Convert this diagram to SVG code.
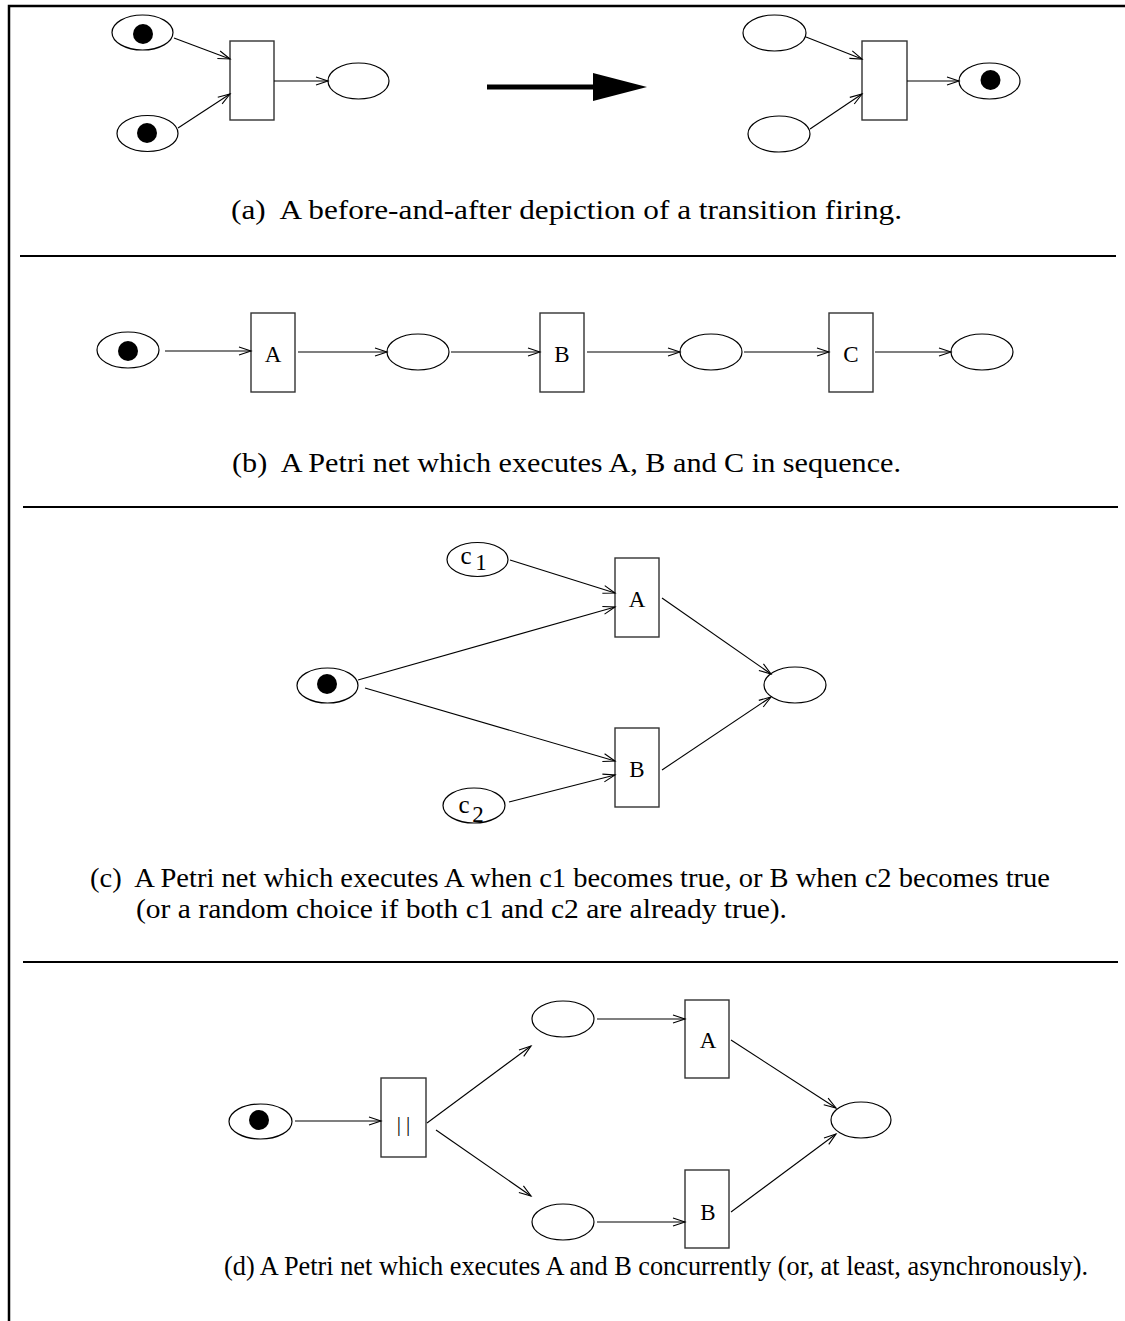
<svg xmlns="http://www.w3.org/2000/svg" width="1125" height="1321" viewBox="0 0 1125 1321">
  <style>
    .place { fill: #fff; stroke: #000; stroke-width: 1.2; }
    .token { fill: #000; }
    .trans { fill: #fff; stroke: #333; stroke-width: 1.4; }
    .arc { fill: none; stroke: #000; stroke-width: 1.1; marker-end: url(#open); }
    .rule { stroke: #000; stroke-width: 2; }
    .lbl { font-family: "Liberation Serif", "Times New Roman", serif; font-size: 23px; fill: #000; text-anchor: middle; }
    .cap { font-family: "Liberation Serif", "Times New Roman", serif; font-size: 27px; fill: #000; white-space: pre; }
  </style>
  <defs>
    <marker id="open" markerUnits="userSpaceOnUse" markerWidth="16" markerHeight="12" refX="13" refY="5" orient="auto">
      <path d="M1,1 L13,5 L1,9" fill="none" stroke="#000" stroke-width="1.1"/>
    </marker>
  </defs>

  <!-- frame and section rules -->
  <g id="frame">
    <path d="M9,1321 V6 H1125" fill="none" stroke="#000" stroke-width="2.5"/>
    <line class="rule" x1="20" y1="256" x2="1116" y2="256"/>
    <line class="rule" x1="23" y1="507" x2="1118" y2="507"/>
    <line class="rule" x1="23" y1="962" x2="1118" y2="962"/>
  </g>

  <!-- (a) transition firing: before -->
  <g id="a-before-p1"><ellipse class="place" cx="142.5" cy="32.5" rx="30.5" ry="17.5"/><circle class="token" cx="143" cy="34" r="10"/></g>
  <g id="a-before-p2"><ellipse class="place" cx="147.5" cy="133.5" rx="30.5" ry="18"/><circle class="token" cx="147" cy="133" r="10"/></g>
  <g id="a-before-t"><rect class="trans" x="230" y="41" width="44" height="79"/></g>
  <g id="a-before-p3"><ellipse class="place" cx="358.5" cy="81" rx="30.5" ry="18"/></g>

  <!-- big "becomes" arrow -->
  <g id="a-step">
    <line x1="487" y1="87" x2="600" y2="87" stroke="#000" stroke-width="5"/>
    <polygon points="593,73 647,87 593,101" fill="#000"/>
  </g>

  <!-- (a) transition firing: after -->
  <g id="a-after-p1"><ellipse class="place" cx="774.5" cy="33" rx="31.5" ry="18"/></g>
  <g id="a-after-p2"><ellipse class="place" cx="779" cy="134" rx="31" ry="18"/></g>
  <g id="a-after-t"><rect class="trans" x="862" y="41" width="45" height="79"/></g>
  <g id="a-after-p3"><ellipse class="place" cx="989.5" cy="81" rx="30.5" ry="18"/><circle class="token" cx="990.5" cy="80" r="10"/></g>

  <!-- (b) sequence -->
  <g id="b-p1"><ellipse class="place" cx="128" cy="350" rx="31" ry="18"/><circle class="token" cx="128" cy="351" r="10"/></g>
  <g id="b-A"><rect class="trans" x="251" y="313" width="44" height="79"/><text class="lbl" x="273" y="362">A</text></g>
  <g id="b-p2"><ellipse class="place" cx="418" cy="352" rx="31" ry="18"/></g>
  <g id="b-B"><rect class="trans" x="540" y="313" width="44" height="79"/><text class="lbl" x="562" y="362">B</text></g>
  <g id="b-p3"><ellipse class="place" cx="711" cy="352" rx="31" ry="18"/></g>
  <g id="b-C"><rect class="trans" x="829" y="313" width="44" height="79"/><text class="lbl" x="851" y="362">C</text></g>
  <g id="b-p4"><ellipse class="place" cx="982" cy="352" rx="31" ry="18"/></g>

  <!-- (c) choice -->
  <g id="c-c1"><ellipse class="place" cx="477.5" cy="559.5" rx="30.5" ry="17"/><text class="lbl" x="466" y="564" style="font-size:25px">c</text><text class="lbl" x="481" y="570">1</text></g>
  <g id="c-p0"><ellipse class="place" cx="327.5" cy="685.5" rx="30.5" ry="17.5"/><circle class="token" cx="327" cy="684" r="10"/></g>
  <g id="c-A"><rect class="trans" x="615" y="558" width="44" height="79"/><text class="lbl" x="637" y="607">A</text></g>
  <g id="c-B"><rect class="trans" x="615" y="728" width="44" height="79"/><text class="lbl" x="637" y="777">B</text></g>
  <g id="c-c2"><ellipse class="place" cx="474" cy="805.5" rx="31" ry="17.5"/><text class="lbl" x="464" y="813" style="font-size:25px">c</text><text class="lbl" x="478" y="822">2</text></g>
  <g id="c-p1"><ellipse class="place" cx="795" cy="685" rx="31" ry="18"/></g>

  <!-- (d) concurrency -->
  <g id="d-p0"><ellipse class="place" cx="260.5" cy="1121.5" rx="31.5" ry="17.5"/><circle class="token" cx="259" cy="1120" r="10"/></g>
  <g id="d-fork"><rect class="trans" x="381" y="1078" width="45" height="79"/><text class="lbl" x="406" y="1131" fill="#555" style="letter-spacing:5px; font-size:21px">||</text></g>
  <g id="d-p1"><ellipse class="place" cx="563" cy="1019" rx="31" ry="18"/></g>
  <g id="d-p2"><ellipse class="place" cx="563" cy="1222" rx="31" ry="18"/></g>
  <g id="d-A"><rect class="trans" x="685" y="1000" width="44" height="78"/><text class="lbl" x="708" y="1048">A</text></g>
  <g id="d-B"><rect class="trans" x="685" y="1170" width="44" height="78"/><text class="lbl" x="708" y="1220">B</text></g>
  <g id="d-p3"><ellipse class="place" cx="861" cy="1120" rx="30" ry="18"/></g>

  <!-- arcs -->
  <g id="connectors">
    <line class="arc" x1="174" y1="38" x2="230" y2="59"/>
    <line class="arc" x1="178" y1="128" x2="230" y2="94"/>
    <line class="arc" x1="274" y1="81" x2="328" y2="81"/>
    <line class="arc" x1="806" y1="37" x2="862" y2="59"/>
    <line class="arc" x1="810" y1="129" x2="862" y2="94"/>
    <line class="arc" x1="907" y1="81" x2="959" y2="81"/>

    <line class="arc" x1="165" y1="351" x2="251" y2="351"/>
    <line class="arc" x1="298" y1="352" x2="387" y2="352"/>
    <line class="arc" x1="451" y1="352" x2="540" y2="352"/>
    <line class="arc" x1="587" y1="352" x2="680" y2="352"/>
    <line class="arc" x1="744" y1="352" x2="829" y2="352"/>
    <line class="arc" x1="875" y1="352" x2="951" y2="352"/>

    <line class="arc" x1="510" y1="560" x2="615" y2="593"/>
    <line class="arc" x1="358" y1="680" x2="615" y2="607"/>
    <line class="arc" x1="365" y1="688" x2="615" y2="761"/>
    <line class="arc" x1="509" y1="802" x2="615" y2="775"/>
    <line class="arc" x1="662" y1="598" x2="771" y2="674"/>
    <line class="arc" x1="662" y1="770" x2="771" y2="697"/>

    <line class="arc" x1="295" y1="1121" x2="381" y2="1121"/>
    <line class="arc" x1="427" y1="1123" x2="531" y2="1046"/>
    <line class="arc" x1="436" y1="1130" x2="531" y2="1196"/>
    <line class="arc" x1="597" y1="1019" x2="685" y2="1019"/>
    <line class="arc" x1="597" y1="1222" x2="685" y2="1222"/>
    <line class="arc" x1="731" y1="1040" x2="836" y2="1108"/>
    <line class="arc" x1="731" y1="1212" x2="836" y2="1134"/>
  </g>

  <!-- captions -->
  <g id="captions">
    <text class="cap" x="231" y="219" textLength="671" lengthAdjust="spacingAndGlyphs">(a)  A before-and-after depiction of a transition firing.</text>
    <text class="cap" x="232" y="472" textLength="669" lengthAdjust="spacingAndGlyphs">(b)  A Petri net which executes A, B and C in sequence.</text>
    <text class="cap" x="90" y="887" textLength="960" lengthAdjust="spacingAndGlyphs">(c)  A Petri net which executes A when c1 becomes true, or B when c2 becomes true</text>
    <text class="cap" x="136" y="918" textLength="651" lengthAdjust="spacingAndGlyphs">(or a random choice if both c1 and c2 are already true).</text>
    <text class="cap" x="224" y="1275" textLength="864" lengthAdjust="spacingAndGlyphs">(d) A Petri net which executes A and B concurrently (or, at least, asynchronously).</text>
  </g>
</svg>
